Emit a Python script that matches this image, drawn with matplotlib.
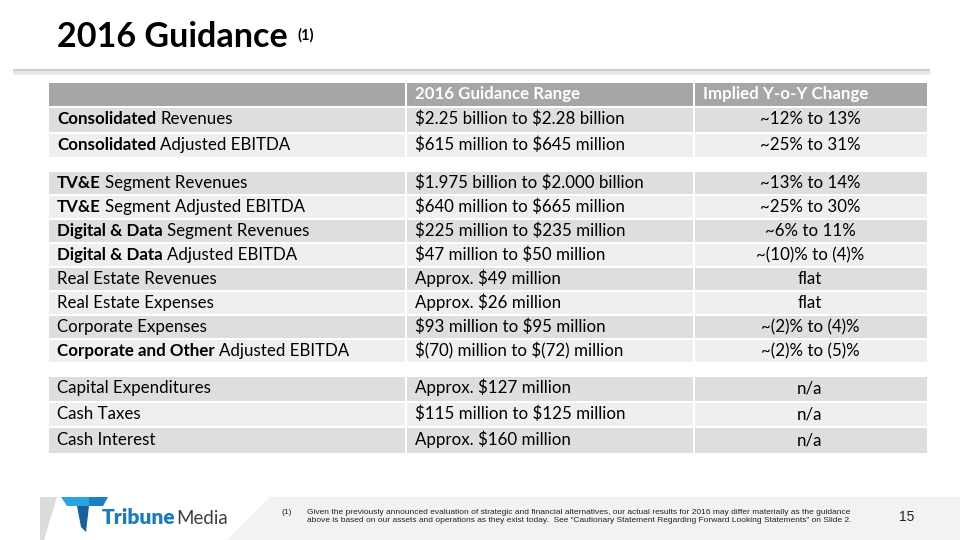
import matplotlib
matplotlib.use("Agg")
import matplotlib.pyplot as plt
from matplotlib.patches import Rectangle, Polygon
from matplotlib.transforms import offset_copy

# Data
header = ["", "2016 Guidance Range", "Implied Y-o-Y Change"]
label_bold = ["Consolidated", "Consolidated", "TV&E", "TV&E", "Digital & Data",
              "Digital & Data", "", "", "", "Corporate and Other",
              "", "", ""]
label_rest = ["Revenues", "Adjusted EBITDA", "Segment Revenues", "Segment Adjusted EBITDA",
              "Segment Revenues", "Adjusted EBITDA", "Real Estate Revenues",
              "Real Estate Expenses", "Corporate Expenses", "Adjusted EBITDA",
              "Capital Expenditures", "Cash Taxes", "Cash Interest"]
guidance = ["$2.25 billion to $2.28 billion", "$615 million to $645 million",
            "$1.975 billion to $2.000 billion", "$640 million to $665 million",
            "$225 million to $235 million", "$47 million to $50 million",
            "Approx. $49 million", "Approx. $26 million", "$93 million to $95 million",
            "$(70) million to $(72) million", "Approx. $127 million",
            "$115 million to $125 million", "Approx. $160 million"]
change = ["~12% to 13%", "~25% to 31%", "~13% to 14%", "~25% to 30%", "~6% to 11%",
          "~(10)% to (4)%", "flat", "flat", "~(2)% to (4)%", "~(2)% to (5)%",
          "n/a", "n/a", "n/a"]
group = [0, 0, 1, 1, 1, 1, 1, 1, 1, 1, 2, 2, 2]

FONT = "Lato"
FS = 12.2
fig = plt.figure(figsize=(9.6, 5.4), dpi=100)
ax = fig.add_axes([0, 0, 1, 1])
ax.set_xlim(0, 960)
ax.set_ylim(540, 0)
ax.axis("off")

# title + shadow rule
ax.text(57, 47, "2016 Guidance", fontsize=24.6, fontweight="bold", family=FONT, va="baseline")
ax.text(297, 40, "(1)", fontsize=10.5, fontweight="bold", family=FONT, va="baseline")
ax.plot([13, 930], [71.5, 71.5], color="#e6e6e6", lw=4, solid_capstyle="butt")
ax.plot([13, 930], [70, 70], color="#c8c8c8", lw=1.2, solid_capstyle="butt")

# table geometry
x_edges = [49, 405, 693, 927]
gap = 2
row_h = [25.5, 25.5, 24, 24, 24, 24, 24, 24, 24, 24, 25.5, 25.5, 27]
group_gap = 13
head_top, head_h = 83, 25
base_off = 4.5

# header
for i in range(3):
    ax.add_patch(Rectangle((x_edges[i] + (gap if i else 0), head_top),
                           x_edges[i + 1] - x_edges[i] - (gap if i else 0), head_h - gap,
                           facecolor="#a6a6a6", edgecolor="none"))
hb = round(head_top + (head_h - gap) / 2 + base_off)
ax.text(415, hb, header[1], color="white", fontsize=FS, fontweight="bold",
        family=FONT, va="baseline")
ax.text(703, hb, header[2], color="white", fontsize=FS, fontweight="bold",
        family=FONT, va="baseline")

fig.canvas.draw()
renderer = fig.canvas.get_renderer()

y = head_top + head_h
k = 0
for r in range(len(label_rest)):
    if r > 0 and group[r] != group[r - 1]:
        y += group_gap
        k = 0
    h = row_h[r]
    color = "#dedede" if k % 2 == 0 else "#efefef"
    k += 1
    for i in range(3):
        ax.add_patch(Rectangle((x_edges[i] + (gap if i else 0), y),
                               x_edges[i + 1] - x_edges[i] - (gap if i else 0), h - gap,
                               facecolor=color, edgecolor="none"))
    yb = round(y + (h - gap) / 2 + base_off)
    x0 = 57
    if label_bold[r]:
        tb = ax.text(x0, yb, label_bold[r], fontsize=FS, fontweight="bold",
                     family=FONT, va="baseline")
        w = tb.get_window_extent(renderer).width
        ax.text(x0, yb, label_rest[r], fontsize=FS, family=FONT, va="baseline",
                transform=offset_copy(ax.transData, fig=fig, x=w + 4, units="dots"))
    else:
        ax.text(x0, yb, label_rest[r], fontsize=FS, family=FONT, va="baseline")
    ax.text(415, yb, guidance[r], fontsize=FS, family=FONT, va="baseline", parse_math=False)
    ax.text(810, yb, change[r], fontsize=FS, family=FONT, va="baseline", ha="center")
    y += h

# footer band
ax.add_patch(Polygon([(270, 497), (960, 497), (960, 540), (227, 540)],
                     facecolor="#f2f2f2", edgecolor="none"))
ax.add_patch(Polygon([(40, 497), (57, 497), (44, 540), (40, 540)],
                     facecolor="#dcdcdc", edgecolor="none"))

# logo
ax.add_patch(Polygon([(61, 497), (89, 497), (89, 506), (67, 506)],
                     facecolor="#2aa4df", edgecolor="none"))
ax.add_patch(Polygon([(89, 497), (108, 497), (103, 506), (89, 506)],
                     facecolor="#1b80c4", edgecolor="none"))
ax.add_patch(Polygon([(77, 506), (89, 506), (86, 532), (81, 527)],
                     facecolor="#15609f", edgecolor="none"))
tl = ax.text(102, 518, "Tribune", fontsize=15, fontweight="heavy", family=FONT,
             color="#1a7bc0", va="center")
wl = tl.get_window_extent(renderer).width
ax.text(102, 518, "Media", fontsize=13.5, family=FONT, color="#404040", va="center",
        transform=offset_copy(ax.transData, fig=fig, x=wl + 1, units="dots"))

# footnote
fn_font = ["Liberation Sans Narrow", "Liberation Sans"]
ax.text(282, 512, "(1)", fontsize=6.1, family=fn_font, va="center", color="#222222")
ax.text(307, 512, "Given the previously announced evaluation of strategic and financial alternatives, "
        "our actual results for 2016 may differ materially as the guidance",
        fontsize=6.0, family=fn_font, va="center", color="#222222")
ax.text(307, 521, "above is based on our assets and operations as they exist today.  See "
        "\u201cCautionary Statement Regarding Forward Looking Statements\u201d on Slide 2.",
        fontsize=6.0, family=fn_font, va="center", color="#222222")
ax.text(907, 517, "15", fontsize=10, family=fn_font, va="center", ha="center", color="#222222")

fig.savefig("out.png", dpi=100)
